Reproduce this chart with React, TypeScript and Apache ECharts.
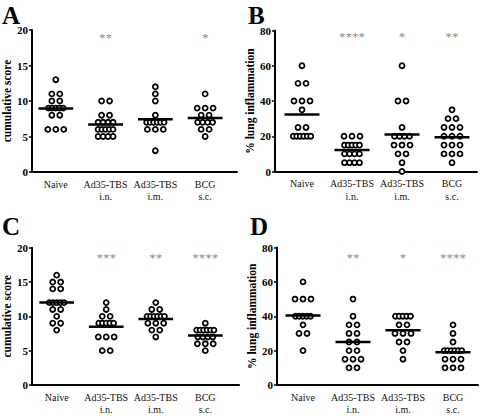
import React, { useEffect, useRef } from 'react';
import * as echarts from 'echarts';

// ---- data ----
const groups = ['Naive', 'Ad35-TBS\ni.n.', 'Ad35-TBS\ni.m.', 'BCG\ns.c.'];

// Panel A: cumulative score
const aNaive = [13, 11, 11, 10, 10, 9, 9, 9, 9, 9, 8, 8, 6, 6, 6];
const aIn = [10, 10, 8, 8, 7, 7, 7, 7, 6, 6, 6, 6, 6, 5, 5, 5, 5];
const aIm = [12, 11, 10, 8, 7, 7, 7, 7, 7, 7, 6, 6, 6, 3];
const aBcg = [11, 9, 9, 9, 8, 8, 7, 7, 7, 7, 6, 6, 5];
const starsA = ['', '**', '', '*'];

// Panel B: % lung inflammation
const bNaive = [60, 50, 50, 40, 40, 40, 35, 25, 25, 20, 20, 20, 20, 20, 20];
const bIn = [20, 20, 20, 15, 15, 15, 15, 15, 10, 10, 10, 10, 5, 5, 5, 5];
const bIm = [60, 40, 40, 25, 20, 20, 20, 20, 15, 15, 15, 10, 10, 5, 0];
const bBcg = [35, 30, 30, 25, 25, 25, 20, 20, 20, 15, 15, 15, 10, 10, 10, 5];
const starsB = ['', '****', '*', '**'];

// Panel C: cumulative score
const cNaive = [16, 15, 15, 14, 14, 12, 12, 12, 12, 12, 11, 11, 10, 9, 9, 8];
const cIn = [12, 11, 10, 10, 9, 9, 9, 9, 9, 7, 7, 7, 5, 5];
const cIm = [12, 11, 11, 10, 10, 10, 10, 10, 10, 9, 9, 9, 8, 8, 7];
const cBcg = [9, 8, 8, 8, 8, 8, 8, 7, 7, 7, 7, 6, 6, 6, 5];
const starsC = ['', '***', '**', '****'];

// Panel D: % lung inflammation
const dNaive = [60, 50, 50, 50, 40, 40, 40, 40, 40, 35, 30, 30, 20];
const dIn = [50, 40, 35, 35, 30, 30, 25, 25, 20, 20, 15, 15, 15, 10, 10];
const dIm = [40, 40, 40, 40, 40, 35, 35, 30, 30, 30, 25, 25, 20, 15];
const dBcg = [35, 30, 25, 20, 20, 20, 20, 20, 20, 15, 15, 15, 10, 10, 10];
const starsD = ['', '**', '*', '****'];

const yTicksScore = [0, 5, 10, 15, 20];
const yTicksLung = [0, 20, 40, 60, 80];

// ---- layout / style ----
const SERIF = 'Liberation Serif';
const PX_PER_CAT = 50;

const panels = [
  { letter: 'A', lx: 2, ly: 15, data: [aNaive, aIn, aIm, aBcg], stars: starsA, ticks: yTicksScore,
    yName: 'cumulative score', grid: { left: 31, top: 30, width: 206, height: 142 },
    xMin: -0.48, xMax: 3.64, starY: 19.0, nameGap: 11 },
  { letter: 'B', lx: 248, ly: 15, data: [bNaive, bIn, bIm, bBcg], stars: starsB, ticks: yTicksLung,
    yName: '% lung inflammation', grid: { left: 275, top: 30.5, width: 202, height: 141 },
    xMin: -0.54, xMax: 3.5, starY: 76.4, nameGap: 15 },
  { letter: 'C', lx: 2, ly: 226, data: [cNaive, cIn, cIm, cBcg], stars: starsC, ticks: yTicksScore,
    yName: 'cumulative score', grid: { left: 30, top: 247.7, width: 209, height: 140 },
    xMin: -0.5, xMax: 3.68, starY: 18.6, nameGap: 11 },
  { letter: 'D', lx: 250, ly: 226, data: [dNaive, dIn, dIm, dBcg], stars: starsD, ticks: yTicksLung,
    yName: '% lung inflammation', grid: { left: 277, top: 247.5, width: 201, height: 140 },
    xMin: -0.52, xMax: 3.5, starY: 74.1, nameGap: 15 },
];

function swarm(values: number[], idx: number): number[][] {
  const counts = new Map<number, number>();
  values.forEach((v) => counts.set(v, (counts.get(v) || 0) + 1));
  const seen = new Map<number, number>();
  return values.map((v) => {
    const n = counts.get(v) || 1;
    const k = seen.get(v) || 0;
    seen.set(v, k + 1);
    const s = n <= 1 ? 0 : n <= 3 ? 8 : Math.max(3.5, 15 / (n - 1));
    const off = (k - (n - 1) / 2) * s;
    return [idx + off / PX_PER_CAT, v];
  });
}

const mean = (a: number[]) => a.reduce((s, v) => s + v, 0) / a.length;

function buildOption() {
  const grid: any[] = [];
  const xAxis: any[] = [];
  const yAxis: any[] = [];
  const series: any[] = [];
  const graphic: any[] = [];

  panels.forEach((p, pi) => {
    grid.push({ ...p.grid, containLabel: false });
    xAxis.push({
      type: 'value', gridIndex: pi, min: p.xMin, max: p.xMax,
      axisLine: { show: true, onZero: false, lineStyle: { color: '#000', width: 2 } },
      axisTick: { show: false },
      splitLine: { show: false },
      axisLabel: {
        customValues: [0, 1, 2, 3],
        formatter: (v: number) => groups[Math.round(v)] || '',
        fontFamily: SERIF, fontSize: 10, lineHeight: 12.5, color: '#111', margin: 6,
      },
    });
    const tmax = p.ticks[p.ticks.length - 1];
    yAxis.push({
      type: 'value', gridIndex: pi, min: p.ticks[0], max: tmax, interval: p.ticks[1] - p.ticks[0],
      name: p.yName, nameLocation: 'middle', nameGap: p.nameGap, nameRotate: 90,
      nameTextStyle: { fontFamily: SERIF, fontSize: 11.5, fontWeight: 'bold', color: '#000' },
      axisLine: { show: true, onZero: false, lineStyle: { color: '#000', width: 2 } },
      axisTick: { show: true, length: 3, lineStyle: { color: '#000', width: 1.5 } },
      splitLine: { show: false },
      axisLabel: { fontFamily: SERIF, fontSize: 11, fontWeight: 'bold', color: '#000', margin: 4 },
    });

    const pts: number[][] = [];
    p.data.forEach((vals, gi) => pts.push(...swarm(vals, gi)));
    series.push({
      type: 'scatter', xAxisIndex: pi, yAxisIndex: pi, data: pts, z: 3,
      symbol: 'circle', symbolSize: 5,
      itemStyle: { color: '#fff', borderColor: '#000', borderWidth: 1.8, opacity: 1 },
      silent: true,
    });
    p.data.forEach((vals, gi) => {
      const m = mean(vals);
      series.push({
        type: 'line', xAxisIndex: pi, yAxisIndex: pi, z: 5, silent: true,
        symbol: 'none', data: [[gi - 0.35, m], [gi + 0.35, m]],
        lineStyle: { color: '#000', width: 2.5 },
      });
    });
    series.push({
      type: 'scatter', xAxisIndex: pi, yAxisIndex: pi, z: 4, silent: true,
      symbolSize: 1,
      itemStyle: { color: 'rgba(0,0,0,0)', borderWidth: 0 },
      data: p.stars.map((s, gi) => (s ? { value: [gi, p.starY], name: s } : null)).filter(Boolean),
      label: {
        show: true, position: 'inside', formatter: (d: any) => d.name,
        fontFamily: SERIF, fontSize: 13, color: '#6a6a6a',
      },
    });
    graphic.push({
      type: 'text', x: p.lx, y: p.ly,
      style: { text: p.letter, font: `bold 25px ${SERIF}`, lineHeight: 17, fill: '#000', align: 'left', verticalAlign: 'middle' },
    });
  });

  return {
    animation: false,
    backgroundColor: '#fff',
    grid, xAxis, yAxis, series, graphic,
  };
}

export default function App() {
  const ref = useRef<HTMLDivElement>(null);
  useEffect(() => {
    if (!ref.current) return;
    const chart = echarts.init(ref.current, undefined, { renderer: 'svg' });
    chart.setOption(buildOption() as any);
    return () => chart.dispose();
  }, []);
  return (
    <div
      ref={ref}
      style={{ position: 'absolute', left: 0, top: 0, width: 480, height: 416, background: '#fff' }}
    />
  );
}
